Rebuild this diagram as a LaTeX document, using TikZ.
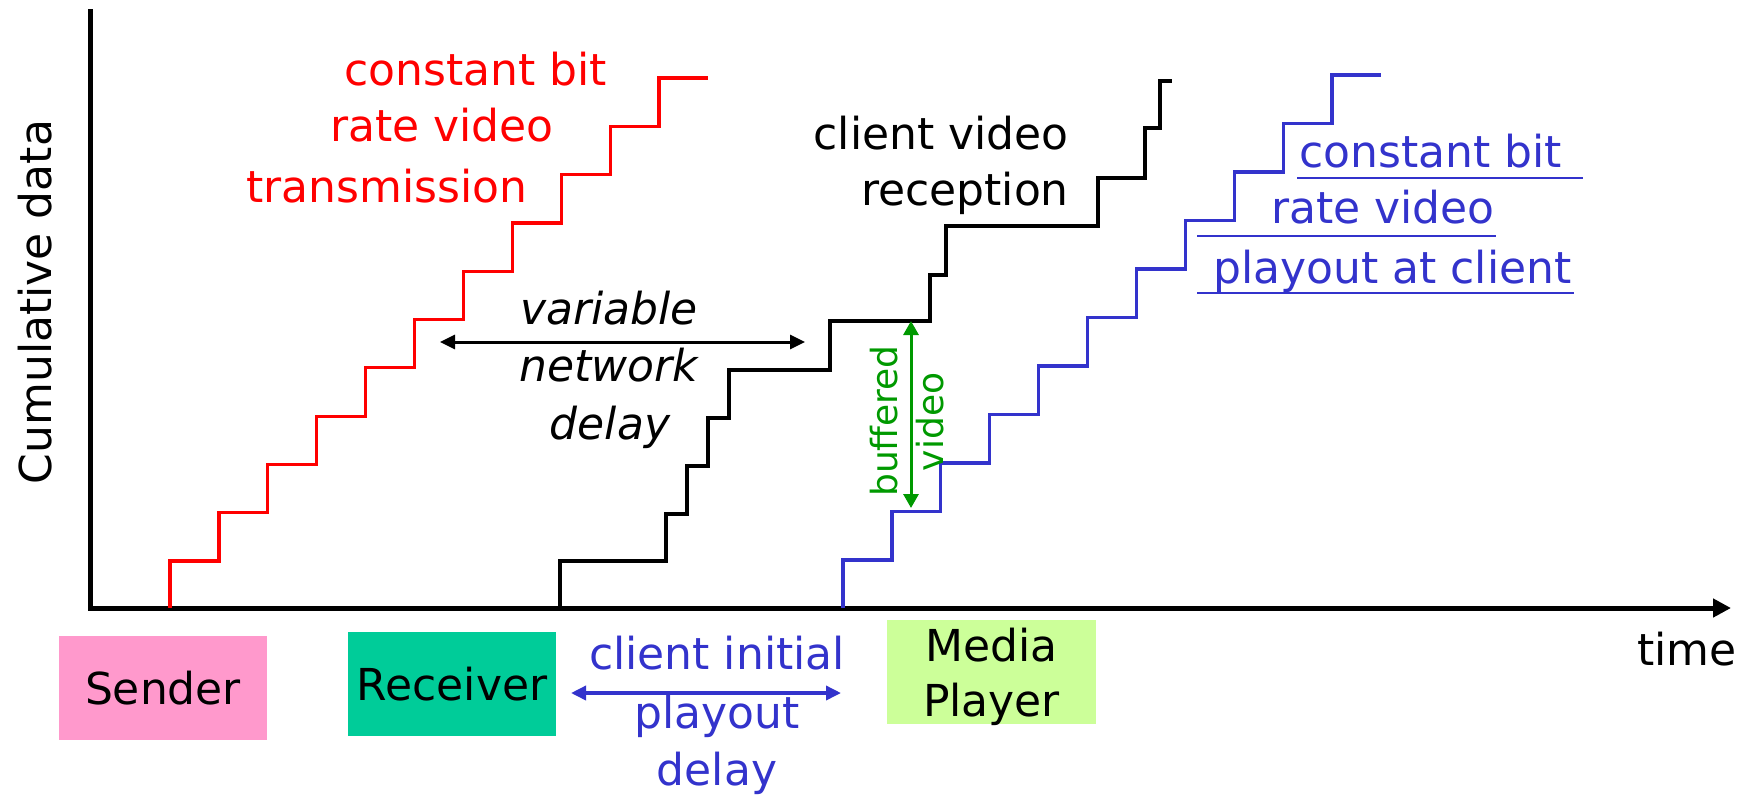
\documentclass[tikz,border=0pt]{standalone}
\usepackage{fontspec}
\setmainfont{DejaVu Sans}
\usetikzlibrary{arrows.meta}
\definecolor{txred}{HTML}{FF0000}
\definecolor{playblue}{HTML}{3333CC}
\definecolor{bufgreen}{HTML}{009900}
\definecolor{senderpink}{HTML}{FF99CC}
\definecolor{receiverteal}{HTML}{00CC99}
\definecolor{playergreen}{HTML}{CCFF99}
\begin{document}
\begin{tikzpicture}[x=1pt, y=-1pt,
  lbl/.style={inner sep=0pt, font=\fontsize{44}{55}\selectfont},
  small/.style={inner sep=0pt, font=\fontsize{36}{40}\selectfont},
  box/.style={lbl, minimum width=208pt, minimum height=104pt},
  axisline/.style={line width=5pt, line join=miter, -{Triangle[length=18pt, width=18pt]}},
  stair/.style={line width=3.2pt, line join=miter},
  twoway/.style={line width=3pt, {Triangle[length=15pt, width=14pt]}-{Triangle[length=15pt, width=14pt]}},
  uline/.style={line width=2.5pt, playblue},
]
\useasboundingbox (0,0) rectangle (1750,796);

% axes
\coordinate (ytop) at (90,9);
\coordinate (origin) at (90,608);
\coordinate (xend) at (1731,608);
\draw[axisline] (ytop) -- (origin) -- (xend);
\node[lbl, rotate=90, anchor=base] (ylabel) at (51,302) {Cumulative data};
\node[lbl, anchor=base west] (xlabel) at (1637,665) {time};

% sender: constant bit rate transmission
\coordinate (redstart) at (170,608);
\draw[stair, txred] (redstart) -- ++(0,-47)
  \foreach \i in {1,...,10} { -- ++(48.9,0) -- ++(0,-48.3) } -- ++(48.9,0);

% client reception after variable network delay
\coordinate (blackstart) at (560,608);
\draw[stair, black] (blackstart) -- (560,561) -- (666,561) -- (666,514) -- (687,514)
  -- (687,466) -- (708,466) -- (708,418) -- (729,418) -- (729,370) -- (830,370)
  -- (830,321) -- (930,321) -- (930,275) -- (946,275) -- (946,226) -- (1098,226)
  -- (1098,178) -- (1145,178) -- (1145,128) -- (1160,128) -- (1160,81) -- (1172,81);

% constant bit rate playout at the client
\coordinate (bluestart) at (843,608);
\draw[stair, playblue] (bluestart) -- ++(0,-48)
  \foreach \i in {1,...,10} { -- ++(48.9,0) -- ++(0,-48.5) } -- ++(48.9,0);

% red labels
\node[lbl, text=txred, anchor=base west] (cbr1) at (344,85) {constant bit};
\node[lbl, text=txred, anchor=base west] (cbr2) at (330,141) {rate video};
\node[lbl, text=txred, anchor=base west] (cbr3) at (246,202) {transmission};

% black labels
\node[lbl, anchor=base east] (rx1) at (1069,149) {client video};
\node[lbl, anchor=base east] (rx2) at (1069,205) {reception};

% network delay
\coordinate (delayl) at (440,342);
\coordinate (delayr) at (805,342);
\draw[twoway] (delayl) -- (delayr);
\node[lbl, font=\fontsize{44}{55}\itshape, anchor=base] (vd1) at (609,324) {variable};
\node[lbl, font=\fontsize{44}{55}\itshape, anchor=base] (vd2) at (609,381) {network};
\node[lbl, font=\fontsize{44}{55}\itshape, anchor=base] (vd3) at (610,439) {delay};

% buffered video
\coordinate (buftop) at (911,321);
\coordinate (bufbot) at (911,508);
\draw[twoway, bufgreen, {Triangle[length=14pt, width=15pt]}-{Triangle[length=14pt, width=15pt]}] (buftop) -- (bufbot);
\node[small, text=bufgreen, rotate=90, anchor=base] (buf1) at (897,421) {buffered};
\node[small, text=bufgreen, rotate=90, anchor=base] (buf2) at (943,422) {video};

% blue playout labels with underlines
\node[lbl, text=playblue, anchor=base west] (po1) at (1299,167) {constant bit};
\node[lbl, text=playblue, anchor=base west] (po2) at (1271,223) {rate video};
\node[lbl, text=playblue, anchor=base west] (po3) at (1213,283) {playout at client};
\draw[uline] (1297,178) -- (1583,178);
\draw[uline] (1197,236) -- (1496,236);
\draw[uline] (1197,293) -- (1574,293);

% boxes along the time axis
\node[box, fill=senderpink] (sender) at (163,688) {Sender};
\node[box, fill=receiverteal] (receiver) at (452,684) {Receiver};
\node[box, fill=playergreen, minimum width=209pt, align=center, text depth=0pt] (player) at (991.5,672) {Media\\Player};

% initial playout delay
\coordinate (initl) at (571,693);
\coordinate (initr) at (841,693);
\draw[twoway, playblue, line width=3.5pt] (initl) -- (initr);
\node[lbl, text=playblue, anchor=base] (ipd1) at (717,669) {client initial};
\node[lbl, text=playblue, anchor=base] (ipd2) at (717,728) {playout};
\node[lbl, text=playblue, anchor=base] (ipd3) at (717,785) {delay};
\end{tikzpicture}
\end{document}
